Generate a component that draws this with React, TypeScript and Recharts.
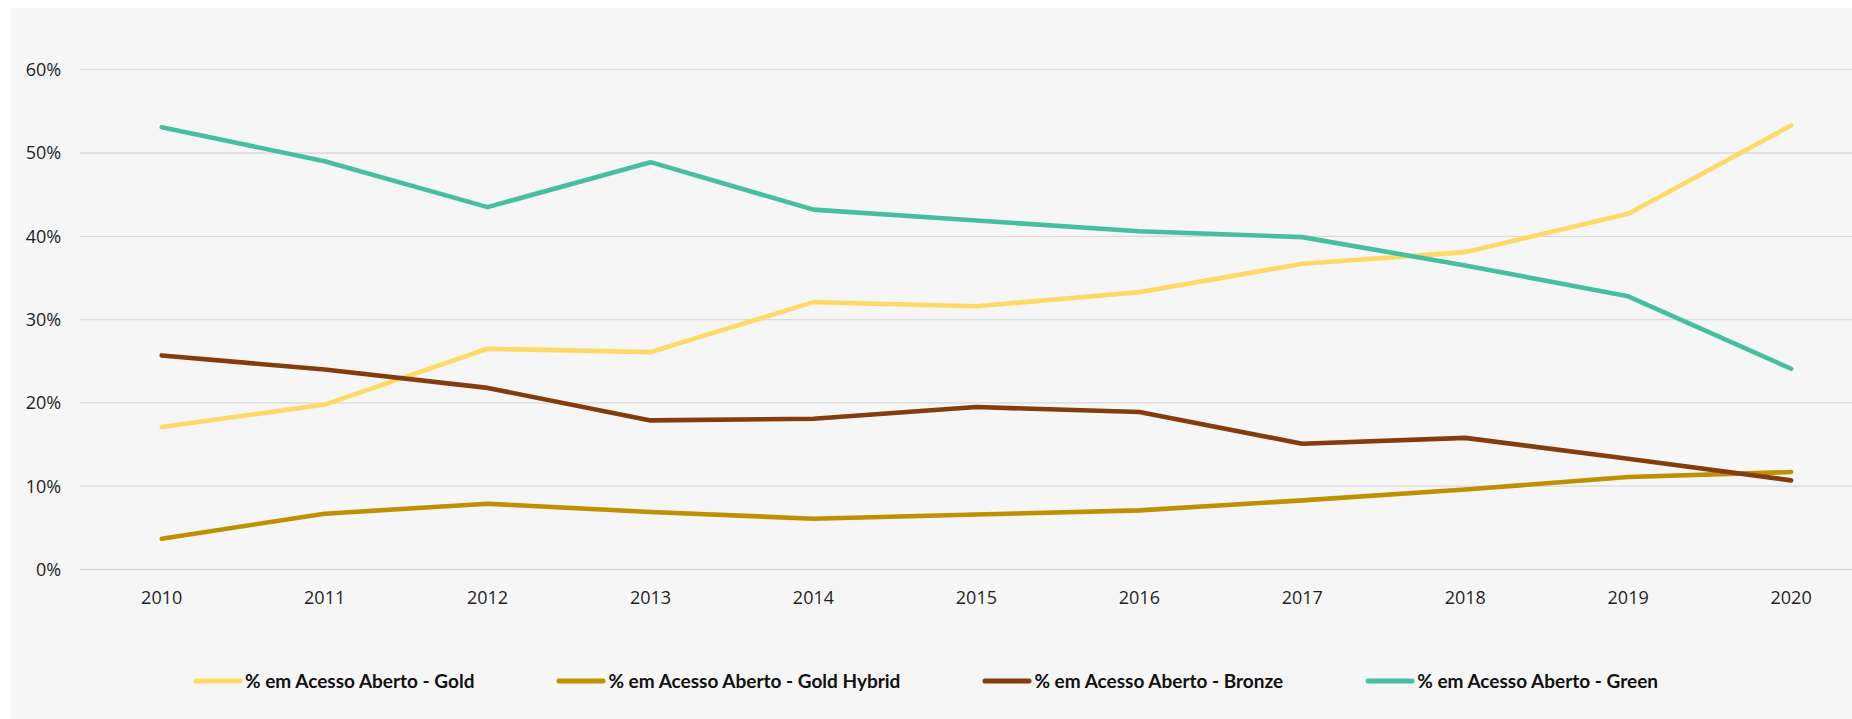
import { LineChart, Line, XAxis, YAxis, CartesianGrid, Legend } from 'recharts'

const years = ['2010', '2011', '2012', '2013', '2014', '2015', '2016', '2017', '2018', '2019', '2020']

const gold = [17.1, 19.8, 26.5, 26.1, 32.1, 31.6, 33.3, 36.7, 38.1, 42.7, 53.3]
const goldHybrid = [3.7, 6.7, 7.9, 6.9, 6.1, 6.6, 7.1, 8.3, 9.6, 11.1, 11.7]
const bronze = [25.7, 24.0, 21.8, 17.9, 18.1, 19.5, 18.9, 15.1, 15.8, 13.3, 10.7]
const green = [53.1, 49.0, 43.5, 48.9, 43.2, 41.9, 40.6, 39.9, 36.5, 32.8, 24.1]

const yTicks = [0, 10, 20, 30, 40, 50, 60]

const series = [
  { key: 'gold', name: '% em Acesso Aberto - Gold', color: '#FFD966' },
  { key: 'goldHybrid', name: '% em Acesso Aberto - Gold Hybrid', color: '#BF9000' },
  { key: 'bronze', name: '% em Acesso Aberto - Bronze', color: '#843C0C' },
  { key: 'green', name: '% em Acesso Aberto - Green', color: '#45BF9F' },
]

const data = years.map((year, i) => ({
  year,
  gold: gold[i],
  goldHybrid: goldHybrid[i],
  bronze: bronze[i],
  green: green[i],
}))

const LegendContent = () => (
  <div style={{ display: 'flex', alignItems: 'center' }}>
    {series.map((s, i) => (
      <div
        key={s.key}
        style={{ display: 'flex', alignItems: 'center', marginRight: i < series.length - 1 ? 82 : 0 }}
      >
        <svg width={50} height={8} style={{ marginRight: 2 }}>
          <line x1={3} y1={4} x2={47} y2={4} stroke={s.color} strokeWidth={5} strokeLinecap="round" />
        </svg>
        <span
          style={{
            fontFamily: 'Lato, sans-serif',
            fontWeight: 700,
            fontSize: 19,
            color: '#111',
            whiteSpace: 'nowrap',
            lineHeight: '22px',
          }}
        >
          {s.name}
        </span>
      </div>
    ))}
  </div>
)

export default function App() {
  return (
    <div
      style={{
        position: 'fixed',
        left: 0,
        top: 0,
        width: 1852,
        height: 719,
        overflow: 'hidden',
        background: '#fff',
      }}
    >
      <div style={{ position: 'absolute', left: 11, top: 8, right: 0, bottom: 0, background: '#F6F6F6' }} />
      <div style={{ position: 'absolute', left: 0, top: 0 }}>
        <LineChart
          width={1900}
          height={719}
          data={data}
          margin={{ top: 69.7, right: 27.4, left: 0, bottom: 109.5 }}
        >
          <CartesianGrid vertical={false} stroke="#D9D9D9" strokeWidth={1.3} />
          <XAxis
            dataKey="year"
            axisLine={false}
            tickLine={false}
            height={40}
            tickSize={6}
            tickMargin={16}
            padding={{ left: 81.5, right: 81.5 }}
            tick={{ fontSize: 18, fill: '#1F1F1F', fontFamily: '"Open Sans", sans-serif' }}
          />
          <YAxis
            domain={[0, 60]}
            ticks={yTicks}
            width={80.2}
            axisLine={false}
            tickLine={false}
            tickSize={6}
            tickMargin={13}
            tickFormatter={(v: number) => `${v}%`}
            tick={{ fontSize: 18, fill: '#1F1F1F', fontFamily: '"Open Sans", sans-serif' }}
          />
          <Legend
            layout="horizontal"
            verticalAlign="middle"
            align="center"
            content={<LegendContent />}
            wrapperStyle={{ left: 193, top: 670, width: 'auto' }}
          />
          {series.map((s) => (
            <Line
              key={s.key}
              type="linear"
              dataKey={s.key}
              name={s.name}
              stroke={s.color}
              strokeWidth={4.6}
              strokeLinecap="round"
              strokeLinejoin="round"
              dot={false}
              activeDot={false}
              isAnimationActive={false}
            />
          ))}
        </LineChart>
      </div>
    </div>
  )
}
